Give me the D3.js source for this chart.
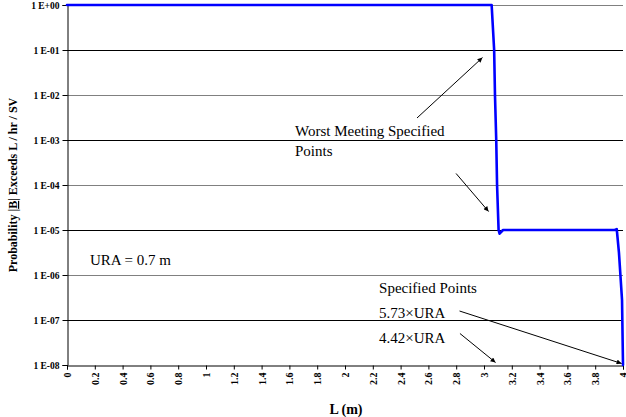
<!DOCTYPE html>
<html>
<head>
<meta charset="utf-8">
<script src="https://cdn.jsdelivr.net/npm/d3@7"></script>
<style>
  html, body { margin: 0; padding: 0; background: #fff; }
  svg { display: block; }
  text { font-family: "Liberation Serif", "Times New Roman", serif; }
</style>
</head>
<body>
<svg id="chart" width="626" height="417"></svg>
<script>
// Exceedance probability curve for the error bound |B| versus limit L
const lengthM = [0, 3.055, 3.073, 3.079, 3.088, 3.094, 3.105, 3.112, 3.137, 3.941, 3.955, 3.971, 3.993, 4.0];
const probability = [1, 1, 1e-1, 1e-2, 1e-3, 1e-4, 1e-5, 8.3e-6, 1e-5, 1e-5, 1.05e-5, 3.1e-6, 2.8e-7, 1e-8];

const xTicks = d3.range(0, 21).map(i => +(i * 0.2).toFixed(1));
const xTickLabels = xTicks.map(v => String(v));
const yTicks = [1, 1e-1, 1e-2, 1e-3, 1e-4, 1e-5, 1e-6, 1e-7, 1e-8];
const yTickLabels = ["1 E+00", "1 E-01", "1 E-02", "1 E-03", "1 E-04", "1 E-05", "1 E-06", "1 E-07", "1 E-08"];

// Annotation texts, anchored in data units [L, P]
const noteTexts = ["Worst Meeting Specified", "Points", "URA = 0.7 m", "Specified Points", "5.73\u00D7URA", "4.42\u00D7URA"];
const noteL = [1.64, 1.64, 0.165, 2.245, 2.245, 2.245];
const noteP = [Math.pow(10, -2.911), Math.pow(10, -3.356), Math.pow(10, -5.778), Math.pow(10, -6.40), Math.pow(10, -6.956), Math.pow(10, -7.511)];

// Annotation arrows: start [L, P] and tip [L, P]
const arrowFromL = [2.518, 2.799, 2.824, 2.827];
const arrowFromP = [Math.pow(10, -2.511), Math.pow(10, -3.744), Math.pow(10, -6.80), Math.pow(10, -7.30)];
const arrowToL = [2.989, 3.033, 3.99, 3.083];
const arrowToP = [Math.pow(10, -1.169), Math.pow(10, -4.589), Math.pow(10, -7.967), Math.pow(10, -7.944)];

const W = 626, H = 417;
const margin = { top: 5, right: 3, bottom: 52, left: 67 };
const serif = "Liberation Serif, Times New Roman, serif";

const svg = d3.select("#chart");

const x = d3.scaleLinear().domain([0, 4]).range([margin.left, W - margin.right]);
const y = d3.scaleLog().domain([1e-8, 1]).range([H - margin.bottom, margin.top]);

// Horizontal gridlines at each decade
svg.append("g")
  .selectAll("line")
  .data(yTicks.slice(0, -1))
  .join("line")
  .attr("x1", x(0))
  .attr("x2", x(4))
  .attr("y1", d => Math.round(y(d)) + 0.5)
  .attr("y2", d => Math.round(y(d)) + 0.5)
  .attr("stroke", (d, i) => i % 2 === 0 ? "#808080" : "#000")
  .attr("stroke-width", 1);

// Y axis
const yAxis = d3.axisLeft(y)
  .tickValues(yTicks)
  .tickFormat((d, i) => yTickLabels[i])
  .tickSize(5)
  .tickPadding(3);

const gy = svg.append("g")
  .attr("transform", `translate(${x(0) + 0.5},0)`)
  .call(yAxis);
gy.select(".domain").attr("stroke", "#000");
gy.selectAll(".tick line").attr("stroke", "#000");
gy.selectAll(".tick text")
  .attr("font-family", serif)
  .attr("font-weight", "bold")
  .attr("font-size", 9.5)
  .attr("fill", "#000");

// X axis with vertical tick labels
const xAxis = d3.axisBottom(x)
  .tickValues(xTicks)
  .tickFormat((d, i) => xTickLabels[i])
  .tickSize(4);

const gx = svg.append("g")
  .attr("transform", `translate(0,${y(1e-8) + 0.5})`)
  .call(xAxis);
gx.select(".domain").attr("stroke", "#000");
gx.selectAll(".tick line").attr("stroke", "#000");
gx.selectAll(".tick text")
  .attr("font-family", serif)
  .attr("font-weight", "bold")
  .attr("font-size", 10)
  .attr("fill", "#000")
  .attr("text-anchor", "end")
  .attr("transform", "rotate(-90)")
  .attr("x", -7)
  .attr("y", 0)
  .attr("dy", "0.35em");

// Exceedance curve
const line = d3.line()
  .x((d, i) => x(lengthM[i]))
  .y(d => y(d));

svg.append("path")
  .datum(probability)
  .attr("d", line)
  .attr("fill", "none")
  .attr("stroke", "#0000ff")
  .attr("stroke-width", 2.6)
  .attr("stroke-linejoin", "round")
  .attr("stroke-linecap", "round");

// Arrowhead marker
svg.append("defs").append("marker")
  .attr("id", "tip")
  .attr("viewBox", "0 0 10 10")
  .attr("refX", 10)
  .attr("refY", 5)
  .attr("markerWidth", 7)
  .attr("markerHeight", 5)
  .attr("markerUnits", "userSpaceOnUse")
  .attr("orient", "auto")
  .append("path")
  .attr("d", "M0,0 L10,5 L0,10 z")
  .attr("fill", "#000");

svg.append("g")
  .selectAll("line")
  .data(arrowFromL)
  .join("line")
  .attr("x1", (d, i) => x(arrowFromL[i]))
  .attr("y1", (d, i) => y(arrowFromP[i]))
  .attr("x2", (d, i) => x(arrowToL[i]))
  .attr("y2", (d, i) => y(arrowToP[i]))
  .attr("stroke", "#000")
  .attr("stroke-width", 1)
  .attr("marker-end", "url(#tip)");

// Annotation texts
svg.append("g")
  .attr("font-family", serif)
  .selectAll("text")
  .data(noteTexts)
  .join("text")
  .attr("x", (d, i) => x(noteL[i]))
  .attr("y", (d, i) => y(noteP[i]))
  .attr("font-family", serif)
  .attr("font-size", 15)
  .attr("fill", "#000")
  .text(d => d);

// Axis titles
svg.append("text")
  .attr("x", (x(0) + x(4)) / 2 + 1)
  .attr("y", 414)
  .attr("text-anchor", "middle")
  .attr("font-family", serif)
  .attr("font-weight", "bold")
  .attr("font-size", 14)
  .text("L (m)");

const yTitle = svg.append("text")
  .attr("transform", `translate(17,${(y(1) + y(1e-8)) / 2}) rotate(-90)`)
  .attr("text-anchor", "middle")
  .attr("font-family", serif)
  .attr("font-weight", "bold")
  .attr("font-size", 12);
yTitle.append("tspan").text("Probability |");
yTitle.append("tspan").attr("text-decoration", "underline").text("B");
yTitle.append("tspan").text("| Exceeds L / hr / SV");
</script>
</body>
</html>
